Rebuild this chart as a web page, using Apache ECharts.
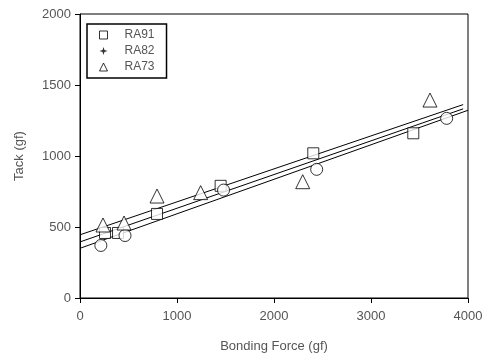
<!DOCTYPE html>
<html>
<head>
<meta charset="utf-8">
<script src="https://cdn.jsdelivr.net/npm/echarts@6/dist/echarts.min.js"></script>
<style>
  html, body { margin: 0; padding: 0; background: #fff; }
  #main { width: 488px; height: 360px; }
</style>
</head>
<body>
<div id="main"></div>
<script>
// measured points [bonding force, tack]
const ra91 = [[258, 458], [392, 458], [794, 592], [1450, 790], [2405, 1019], [3436, 1160]];
const ra82 = [[215, 370], [464, 440], [1480, 760], [2440, 906], [3780, 1265]];
const ra73 = [[237, 514], [454, 528], [794, 718], [1244, 742], [2296, 819], [3608, 1394]];
// fitted lines, end points
const fitRA73 = [[0, 445], [3950, 1362]];
const fitRA91 = [[0, 395], [3950, 1332]];
const fitRA82 = [[0, 350], [4000, 1322]];
const xTicks = [0, 1000, 2000, 3000, 4000];
const yTicks = [0, 500, 1000, 1500, 2000];

const chart = echarts.init(document.getElementById('main'));
const textColor = '#555';
const font = 'Liberation Sans, Arial, sans-serif';

const pointStyle = { color: '#fff', borderColor: '#000', borderWidth: 1 };
const lineSeries = (name, data) => ({
    name: name,
    type: 'line',
    data: data,
    symbol: 'none',
    lineStyle: { color: '#000', width: 1 },
    silent: true,
    z: 1
});

const option = {
    backgroundColor: '#fff',
    animation: false,
    grid: {
        left: 80, right: 20, top: 14, bottom: 62,
        show: true, borderColor: '#000', borderWidth: 1
    },
    legend: {
        orient: 'vertical',
        left: 87, top: 24,
        padding: [5, 12, 5, 12],
        borderColor: '#000', borderWidth: 1.5,
        itemWidth: 8, itemHeight: 8, itemGap: 4,
        itemStyle: { borderWidth: 1 },
        textStyle: { color: textColor, fontSize: 12, fontFamily: font, padding: [0, 0, 0, 12] },
        data: [
            { name: 'RA91', icon: 'rect' },
            { name: 'RA82', icon: 'path://M5,0 L6.2,3.8 L10,5 L6.2,6.2 L5,10 L3.8,6.2 L0,5 L3.8,3.8 Z',
              itemStyle: { color: '#000', borderWidth: 0 } },
            { name: 'RA73', icon: 'triangle' }
        ]
    },
    xAxis: {
        type: 'value',
        min: 0, max: 4000, interval: 1000,
        name: 'Bonding Force (gf)',
        nameLocation: 'middle',
        nameGap: 42,
        nameTextStyle: { color: textColor, fontSize: 13, fontFamily: font },
        axisLine: { lineStyle: { color: '#000', width: 1 } },
        axisTick: { show: true, length: 5, lineStyle: { color: '#000' } },
        axisLabel: { color: textColor, fontSize: 13, fontFamily: font, margin: 12,
            formatter: v => xTicks.includes(v) ? String(v) : '' },
        splitLine: { show: false }
    },
    yAxis: {
        type: 'value',
        min: 0, max: 2000, interval: 500,
        name: 'Tack (gf)',
        nameLocation: 'middle',
        nameGap: 54,
        nameTextStyle: { color: textColor, fontSize: 13, fontFamily: font },
        axisLine: { lineStyle: { color: '#000', width: 1 } },
        axisTick: { show: true, length: 5, lineStyle: { color: '#000' } },
        axisLabel: { color: textColor, fontSize: 13, fontFamily: font, margin: 9,
            formatter: v => yTicks.includes(v) ? String(v) : '' },
        splitLine: { show: false }
    },
    series: [
        lineSeries('fit RA73', fitRA73),
        lineSeries('fit RA91', fitRA91),
        lineSeries('fit RA82', fitRA82),
        { name: 'RA91', type: 'scatter', data: ra91, symbol: 'rect', symbolSize: 11, itemStyle: pointStyle, z: 3 },
        { name: 'RA82', type: 'scatter', data: ra82, symbol: 'circle', symbolSize: 12, itemStyle: pointStyle, z: 3 },
        { name: 'RA73', type: 'scatter', data: ra73, symbol: 'triangle', symbolSize: 14, itemStyle: pointStyle, z: 3 }
    ]
};

option && chart.setOption(option);
</script>
</body>
</html>
